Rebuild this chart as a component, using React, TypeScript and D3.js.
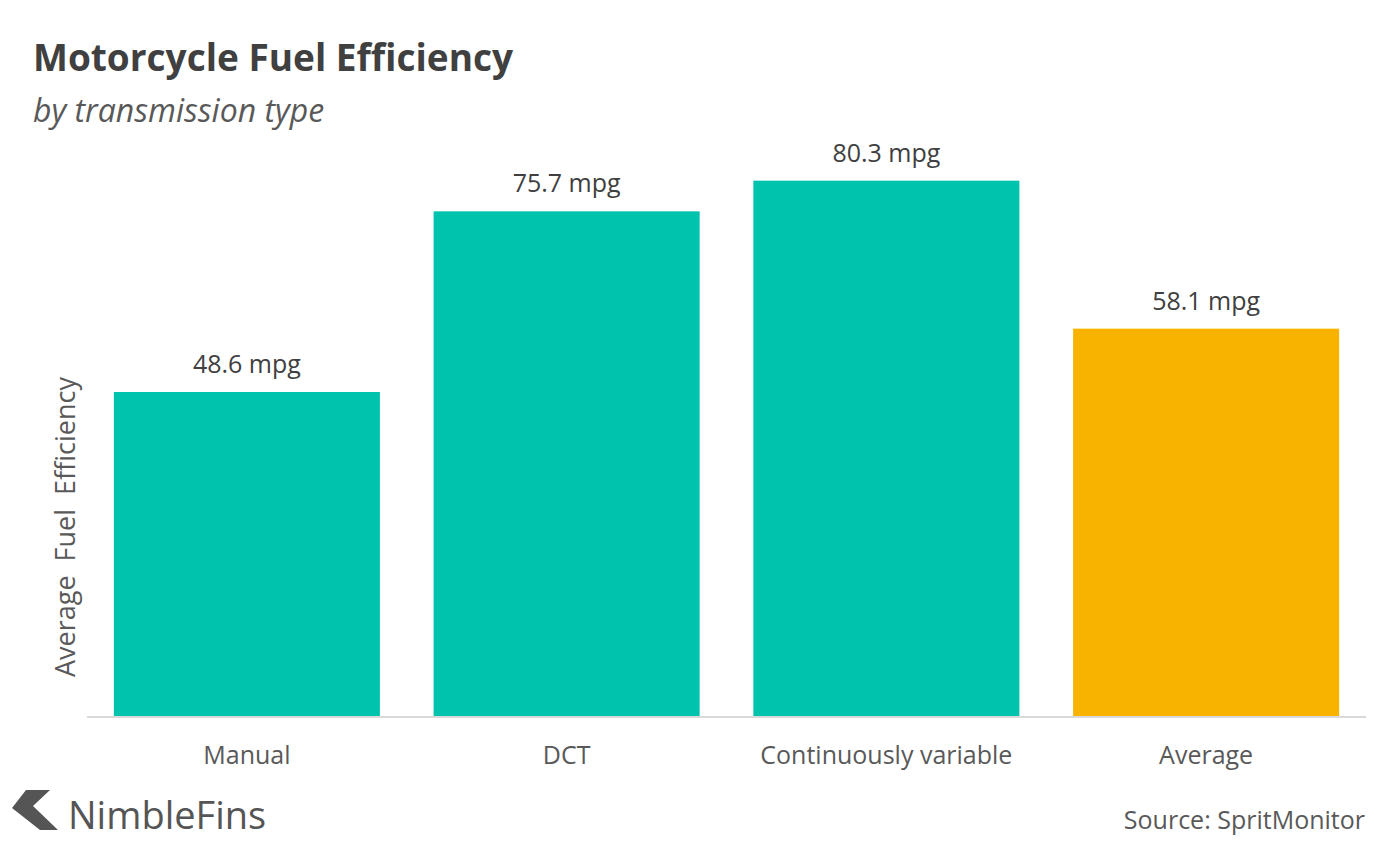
import * as d3 from "d3";

const categories = ["Manual", "DCT", "Continuously variable", "Average"];
const values = [48.6, 75.7, 80.3, 58.1];
const barColors = ["#00c3ae", "#00c3ae", "#00c3ae", "#f8b300"];

const App = () => {
    const width = 1400;
    const height = 852;
    const font = "'Open Sans', sans-serif";
    const textColor = "#404040";

    const xScale = d3
        .scaleBand()
        .domain(categories)
        .range([87, 1366])
        .paddingInner(0.168)
        .paddingOuter(0.084);

    const yScale = d3.scaleLinear().domain([0, 90]).range([716, 116]);

    return (
        <svg
            width={width}
            height={height}
            style={{ position: "absolute", left: 0, top: 0, background: "#fff" }}
        >
            <text x={33} y={71} fontFamily={font} fontWeight={700} fontSize={37} fill={textColor}>
                Motorcycle Fuel Efficiency
            </text>
            <text x={33} y={122} fontFamily={font} fontStyle="italic" fontSize={32} fill="#595959">
                by transmission type
            </text>

            {categories.map((c, i) => (
                <g key={c}>
                    <rect
                        x={xScale(c)}
                        y={yScale(values[i])}
                        width={xScale.bandwidth()}
                        height={yScale(0) - yScale(values[i])}
                        fill={barColors[i]}
                    />
                    <text
                        x={xScale(c) + xScale.bandwidth() / 2}
                        y={yScale(values[i]) - 19}
                        textAnchor="middle"
                        fontFamily={font}
                        fontSize={25}
                        fill={textColor}
                    >
                        {values[i].toFixed(1)} mpg
                    </text>
                    <text
                        x={xScale(c) + xScale.bandwidth() / 2}
                        y={764}
                        textAnchor="middle"
                        fontFamily={font}
                        fontSize={25}
                        fill="#595959"
                    >
                        {c}
                    </text>
                </g>
            ))}

            <line x1={87} x2={1366} y1={717} y2={717} stroke="#d9d9d9" strokeWidth={2} />

            <text
                transform="translate(75,527) rotate(-90)"
                textAnchor="middle"
                fontFamily={font}
                fontSize={27}
                wordSpacing={7}
                fill="#595959"
            >
                Average Fuel Efficiency
            </text>

            {/* logo */}
            <path d="M26,790 L50,790 L33,806 L58,830 L40,830 L12,808 Z" fill="#555" />
            <text x={68} y={829} fontFamily={font} fontSize={38} fill="#555">
                NimbleFins
            </text>

            <text x={1365} y={829} textAnchor="end" fontFamily={font} fontSize={25} fill="#595959">
                Source: SpritMonitor
            </text>
        </svg>
    );
};

export default App;
